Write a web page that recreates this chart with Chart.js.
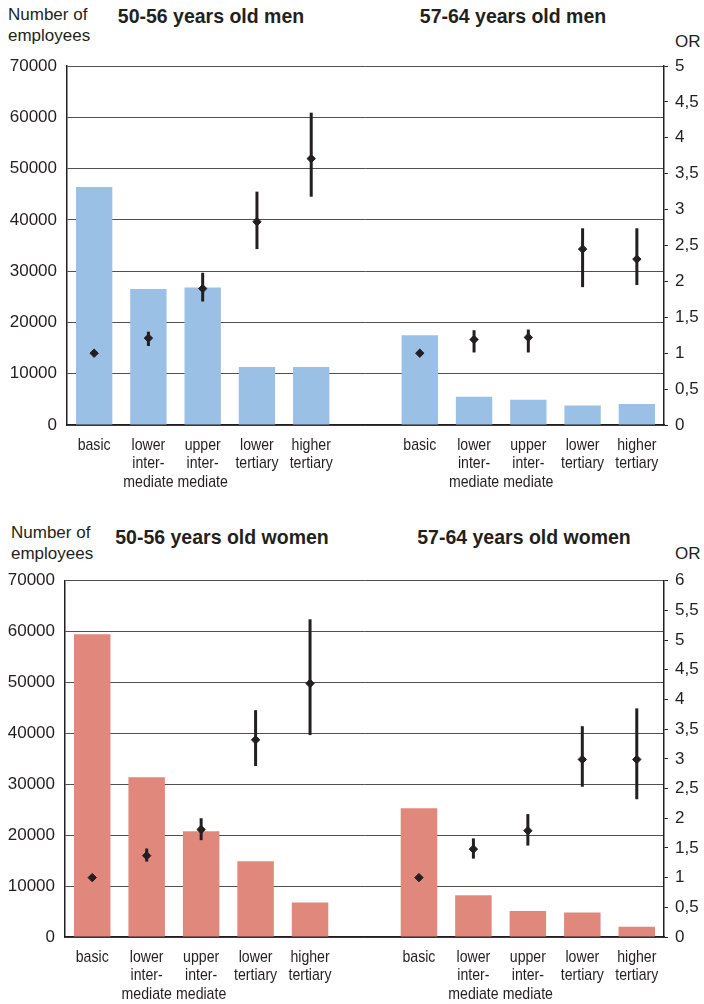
<!DOCTYPE html>
<html>
<head>
<meta charset="utf-8">
<script src="https://cdn.jsdelivr.net/npm/chart.js@4/dist/chart.umd.min.js"></script>
<style>
  html, body { margin: 0; padding: 0; background: #fff; }
  body { width: 704px; height: 1004px; position: relative; overflow: hidden;
         font-family: "Liberation Sans", Arial, sans-serif; color: #231f20; }
  .txt { position: absolute; font-size: 17px; line-height: 21px; white-space: nowrap; }
  .ttl { position: absolute; font-size: 19.5px; line-height: 22px; font-weight: bold;
         width: 300px; text-align: center; white-space: nowrap; }
  canvas { position: absolute; left: 0; }
</style>
</head>
<body>
  <div class="txt" style="left:8px; top:4px;">Number of<br>employees</div>
  <div class="ttl" style="left:61px; top:5px;">50-56 years old men</div>
  <div class="ttl" style="left:363px; top:5px;">57-64 years old men</div>
  <div class="txt" style="left:675px; top:31px;">OR</div>
  <canvas id="menChart" width="704" height="500" style="top:0px;"></canvas>

  <div class="txt" style="left:11px; top:522px;">Number of<br>employees</div>
  <div class="ttl" style="left:72px; top:526px;">50-56 years old women</div>
  <div class="ttl" style="left:374px; top:526px;">57-64 years old women</div>
  <div class="txt" style="left:675px; top:543px;">OR</div>
  <canvas id="womenChart" width="704" height="504" style="top:500px;"></canvas>

<script>
// Education levels shown under each age group
const educationLevels = [
  'basic',
  ['lower', 'inter-', 'mediate'],
  ['upper', 'inter-', 'mediate'],
  ['lower', 'tertiary'],
  ['higher', 'tertiary']
];

// Men: number of employees
const menEmployees5056 = [46400, 26500, 26800, 11300, 11300];
const menEmployees5764 = [17500, 5500, 4900, 3800, 4100];
// Men: odds ratios with confidence limits
const menOR5056     = [1.00, 1.21, 1.90, 2.83, 3.71];
const menORLow5056  = [null, 1.10, 1.72, 2.45, 3.18];
const menORHigh5056 = [null, 1.30, 2.12, 3.25, 4.35];
const menOR5764     = [1.00, 1.19, 1.22, 2.45, 2.31];
const menORLow5764  = [null, 1.01, 1.01, 1.92, 1.95];
const menORHigh5764 = [null, 1.32, 1.33, 2.74, 2.74];

// Women: number of employees
const womenEmployees5056 = [59500, 31400, 20800, 14900, 6800];
const womenEmployees5764 = [25300, 8200, 5100, 4800, 2000];
// Women: odds ratios with confidence limits
const womenOR5056     = [1.00, 1.37, 1.81, 3.32, 4.27];
const womenORLow5056  = [null, 1.27, 1.63, 2.88, 3.40];
const womenORHigh5056 = [null, 1.49, 2.00, 3.82, 5.35];
const womenOR5764     = [1.00, 1.48, 1.79, 2.99, 2.99];
const womenORLow5764  = [null, 1.32, 1.54, 2.53, 2.32];
const womenORHigh5764 = [null, 1.66, 2.07, 3.55, 3.85];

// Axis ranges
const employeeAxisMax = 70000;
const employeeAxisStep = 10000;
const menORAxisMax = 5;
const womenORAxisMax = 6;
const orAxisStep = 0.5;

const INK = '#231f20';

// Two age groups side by side, separated by one empty slot
function joinGroups(a, b) { return [...a, null, ...b]; }
const categoryLabels = [...educationLevels, '', ...educationLevels];

// Vertical confidence-interval lines for the odds ratios
const errorBarPlugin = {
  id: 'errorBars',
  afterDatasetsDraw(chart) {
    const ctx = chart.ctx;
    chart.data.datasets.forEach(ds => {
      if (!ds.errLow) return;
      const xScale = chart.scales.x;
      const yScale = chart.scales[ds.yAxisID];
      ctx.save();
      ctx.strokeStyle = INK;
      ctx.lineWidth = 3;
      ds.errLow.forEach((lo, i) => {
        const hi = ds.errHigh[i];
        if (lo == null || hi == null) return;
        const x = xScale.getPixelForValue(i);
        ctx.beginPath();
        ctx.moveTo(x, yScale.getPixelForValue(lo));
        ctx.lineTo(x, yScale.getPixelForValue(hi));
        ctx.stroke();
      });
      ctx.restore();
    });
  }
};

// Condensed category labels under the x axis (narrow face drawn by squeezing the regular one)
const condensedLabelsPlugin = {
  id: 'condensedLabels',
  afterDraw(chart) {
    const ctx = chart.ctx;
    const xScale = chart.scales.x;
    const squeeze = 0.83;
    const lineStep = 18.3;
    const firstBaseline = chart.chartArea.bottom + 25;
    ctx.save();
    ctx.font = '17px "Liberation Sans", Arial, sans-serif';
    ctx.fillStyle = INK;
    ctx.textAlign = 'center';
    ctx.textBaseline = 'alphabetic';
    chart.data.labels.forEach((label, i) => {
      const lines = Array.isArray(label) ? label : [label];
      const x = xScale.getPixelForValue(i);
      lines.forEach((line, k) => {
        if (!line) return;
        ctx.save();
        ctx.translate(x, firstBaseline + k * lineStep);
        ctx.scale(squeeze, 1);
        ctx.fillText(line, 0, 0);
        ctx.restore();
      });
    });
    ctx.restore();
  }
};

function buildChart(canvasId, opts) {
  const tickFont = { family: 'Liberation Sans', size: 17 };
  return new Chart(document.getElementById(canvasId), {
    data: {
      labels: categoryLabels,
      datasets: [
        {
          type: 'line',
          data: opts.or,
          errLow: opts.orLow,
          errHigh: opts.orHigh,
          yAxisID: 'or',
          showLine: false,
          pointStyle: 'rectRot',
          pointRadius: 4.2,
          pointBorderWidth: 1,
          pointBackgroundColor: INK,
          pointBorderColor: INK,
          order: 1
        },
        {
          type: 'bar',
          data: opts.employees,
          yAxisID: 'y',
          backgroundColor: opts.barColor,
          barPercentage: 0.67,
          categoryPercentage: 1,
          order: 2
        }
      ]
    },
    options: {
      responsive: false,
      animation: false,
      events: [],
      layout: { padding: { top: opts.top, left: 0, right: 0, bottom: 0 } },
      plugins: { legend: { display: false }, tooltip: { enabled: false } },
      scales: {
        x: {
          type: 'category',
          offset: true,
          grid: { display: false, drawTicks: false },
          border: { display: true, color: INK, width: 1.5 },
          ticks: { display: false, autoSkip: false },
          afterFit(s) { s.height = opts.bottomSpace; }
        },
        y: {
          position: 'left',
          min: 0,
          max: employeeAxisMax,
          ticks: { stepSize: employeeAxisStep, padding: 10, font: tickFont, color: INK,
                   callback: v => String(v) },
          grid: { color: '#505050', lineWidth: 1, drawTicks: false },
          border: { color: INK, width: 1.5 },
          afterFit(s) { s.width = opts.left; }
        },
        or: {
          position: 'right',
          min: 0,
          max: opts.orMax,
          ticks: { stepSize: orAxisStep, padding: 7, font: tickFont, color: INK,
                   callback: v => String(v).replace('.', ',') },
          grid: { drawOnChartArea: false, drawTicks: true, tickLength: 4, color: INK, lineWidth: 1 },
          border: { color: INK, width: 1.5 },
          afterFit(s) { s.width = 40; }
        }
      }
    },
    plugins: [errorBarPlugin, condensedLabelsPlugin]
  });
}

buildChart('menChart', {
  employees: joinGroups(menEmployees5056, menEmployees5764),
  or: joinGroups(menOR5056, menOR5764),
  orLow: joinGroups(menORLow5056, menORLow5764),
  orHigh: joinGroups(menORHigh5056, menORHigh5764),
  orMax: menORAxisMax,
  barColor: '#9bc0e6',
  top: 66,
  left: 67,
  bottomSpace: 75
});

buildChart('womenChart', {
  employees: joinGroups(womenEmployees5056, womenEmployees5764),
  or: joinGroups(womenOR5056, womenOR5764),
  orLow: joinGroups(womenORLow5056, womenORLow5764),
  orHigh: joinGroups(womenORHigh5056, womenORHigh5764),
  orMax: womenORAxisMax,
  barColor: '#e0887c',
  top: 80.7,
  left: 65,
  bottomSpace: 67
});
</script>
</body>
</html>
